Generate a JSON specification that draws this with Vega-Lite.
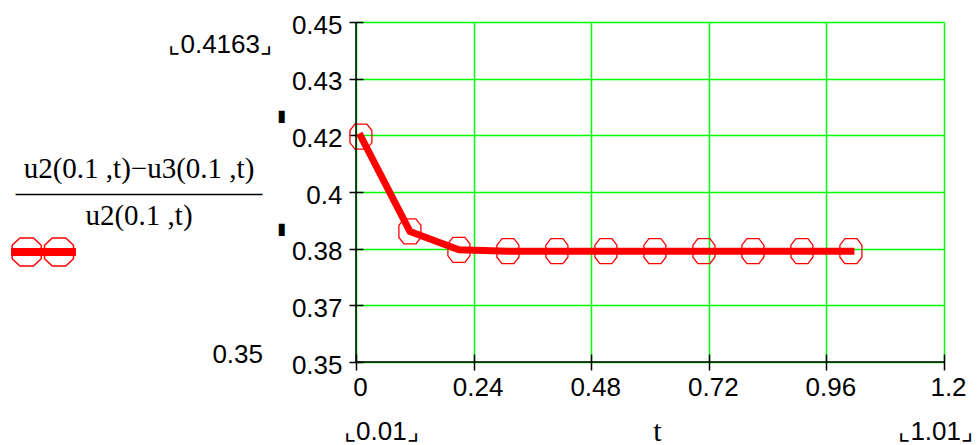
{
  "$schema": "https://vega.github.io/schema/vega-lite/v6.json",
  "width": 588,
  "height": 340,
  "autosize": "none",
  "padding": {"left": 356, "top": 22, "right": 33, "bottom": 83},
  "background": "white",
  "config": {
    "view": {"stroke": null},
    "font": "Liberation Sans"
  },
  "data": {
    "values": [
      {"t": 0.01, "ratio": 0.4163},
      {"t": 0.11, "ratio": 0.3884},
      {"t": 0.21, "ratio": 0.383},
      {"t": 0.31, "ratio": 0.3826},
      {"t": 0.41, "ratio": 0.3826},
      {"t": 0.51, "ratio": 0.3826},
      {"t": 0.61, "ratio": 0.3826},
      {"t": 0.71, "ratio": 0.3826},
      {"t": 0.81, "ratio": 0.3826},
      {"t": 0.91, "ratio": 0.3826},
      {"t": 1.01, "ratio": 0.3826}
    ]
  },
  "layer": [
    {
      "mark": {"type": "line", "color": "#ff0000", "strokeWidth": 7, "strokeCap": "square", "strokeJoin": "miter"},
      "encoding": {
        "x": {
          "field": "t",
          "type": "quantitative",
          "scale": {"domain": [0, 1.2], "nice": false, "zero": false},
          "axis": {
            "values": [0, 0.24, 0.48, 0.72, 0.96, 1.2],
            "format": ".2~f",
            "domain": false,
            "offset": -8,
            "tickSize": 16,
            "tickColor": "black",
            "tickWidth": 1.5,
            "labelPadding": 4,
            "labelOffset": 4,
            "labelFlush": false,
            "labelOverlap": false,
            "labelFont": "Liberation Sans",
            "labelFontSize": 26,
            "labelColor": "black",
            "grid": true,
            "gridColor": "#00ff00",
            "gridWidth": 1.5,
            "gridOpacity": 1,
            "title": "t",
            "titleFont": "Liberation Serif",
            "titleFontSize": 30,
            "titleFontWeight": "normal",
            "titleColor": "black",
            "titleBaseline": "alphabetic",
            "titleAlign": "center",
            "titleX": 301,
            "titleY": 86
          }
        },
        "y": {
          "field": "ratio",
          "type": "quantitative",
          "scale": {"domain": [0.35, 0.45], "nice": false, "zero": false},
          "axis": {
            "values": [0.35, 0.366667, 0.383333, 0.4, 0.416667, 0.433333, 0.45],
            "format": ".2~f",
            "domain": false,
            "offset": -7,
            "tickSize": 14,
            "tickColor": "black",
            "tickWidth": 1.5,
            "labelPadding": 7,
            "labelOffset": 3,
            "labelOverlap": false,
            "labelFont": "Liberation Sans",
            "labelFontSize": 26,
            "labelColor": "black",
            "grid": true,
            "gridColor": "#00ff00",
            "gridWidth": 1.5,
            "gridOpacity": 1,
            "title": null
          }
        }
      }
    },
    {
      "mark": {
        "type": "point",
        "filled": false,
        "opacity": 1,
        "strokeWidth": 1.3,
        "size": 625,
        "shape": "M-0.48,-1L0.48,-1L0.88,-0.48L0.88,0.48L0.48,1L-0.48,1L-0.88,0.48L-0.88,-0.48Z"
      },
      "encoding": {
        "x": {"field": "t", "type": "quantitative"},
        "y": {"field": "ratio", "type": "quantitative"},
        "color": {
          "datum": "ratio",
          "type": "nominal",
          "scale": {"range": ["#ff0000"]},
          "legend": {
            "orient": "none",
            "legendX": -340,
            "legendY": 133,
            "padding": 0,
            "title": ["u2(0.1 ,t)−u3(0.1 ,t)", "————————–", "u2(0.1 ,t)"],
            "titleFont": "Liberation Serif",
            "titleFontSize": 29,
            "titleFontWeight": "normal",
            "titleColor": "black",
            "titleLineHeight": 23.5,
            "titleAnchor": "start",
            "titleAlign": "center",
            "titlePadding": 5,
            "titleLimit": 400,
            "symbolType": "M-9.6,-0.22H-5.27M-9.6,-0.13H-5.27M-9.6,-0.045H-5.27M-9.6,0.045H-5.27M-9.6,0.13H-5.27M-9.6,0.22H-5.27M-9.003,-0.933L-8.103,-0.933L-7.586,-0.45L-7.586,0.45L-8.103,0.933L-9.003,0.933L-9.52,0.45L-9.52,-0.45ZM-6.85,-0.933L-5.95,-0.933L-5.433,-0.45L-5.433,0.45L-5.95,0.933L-6.85,0.933L-7.367,0.45L-7.367,-0.45Z",
            "symbolSize": 900,
            "symbolStrokeWidth": 1.5,
            "symbolStrokeColor": "#ff0000",
            "symbolFillColor": "transparent",
            "symbolOpacity": 1,
            "labelExpr": "''",
            "labelFontSize": 1
          }
        }
      }
    },
    {
      "data": {"values": [{}]},
      "mark": {"type": "rule", "color": "black", "strokeWidth": 1.5},
      "encoding": {"x": {"datum": 0, "type": "quantitative"}}
    },
    {
      "data": {"values": [{}]},
      "mark": {"type": "rule", "color": "black", "strokeWidth": 1.5},
      "encoding": {"y": {"datum": 0.35, "type": "quantitative"}}
    },
    {
      "data": {"values": [{"label": "⌞0.4163⌟"}]},
      "mark": {"type": "text", "align": "right", "baseline": "alphabetic", "dx": -84, "dy": 31, "fontSize": 26, "color": "black"},
      "encoding": {"x": {"datum": 0, "type": "quantitative"}, "y": {"datum": 0.45, "type": "quantitative"}, "text": {"field": "label"}}
    },
    {
      "data": {"values": [{"label": "0.35"}]},
      "mark": {"type": "text", "align": "right", "baseline": "alphabetic", "dx": -93, "dy": 1, "fontSize": 26, "color": "black"},
      "encoding": {"x": {"datum": 0, "type": "quantitative"}, "y": {"datum": 0.35, "type": "quantitative"}, "text": {"field": "label"}}
    },
    {
      "data": {"values": [{"label": "⌞0.01⌟"}]},
      "mark": {"type": "text", "align": "left", "baseline": "alphabetic", "dx": -12, "dy": 78, "fontSize": 26, "color": "black"},
      "encoding": {"x": {"datum": 0, "type": "quantitative"}, "y": {"datum": 0.35, "type": "quantitative"}, "text": {"field": "label"}}
    },
    {
      "data": {"values": [{"label": "⌞1.01⌟"}]},
      "mark": {"type": "text", "align": "right", "baseline": "alphabetic", "dx": 29, "dy": 78, "fontSize": 26, "color": "black"},
      "encoding": {"x": {"datum": 1.2, "type": "quantitative"}, "y": {"datum": 0.35, "type": "quantitative"}, "text": {"field": "label"}}
    },
    {
      "data": {"values": [{"label": "▮"}]},
      "mark": {"type": "text", "align": "center", "baseline": "middle", "dx": -74, "dy": 94, "fontSize": 16, "font": "DejaVu Sans", "color": "black"},
      "encoding": {"x": {"datum": 0, "type": "quantitative"}, "y": {"datum": 0.45, "type": "quantitative"}, "text": {"field": "label"}}
    },
    {
      "data": {"values": [{"label": "▮"}]},
      "mark": {"type": "text", "align": "center", "baseline": "middle", "dx": -74, "dy": 207, "fontSize": 16, "font": "DejaVu Sans", "color": "black"},
      "encoding": {"x": {"datum": 0, "type": "quantitative"}, "y": {"datum": 0.45, "type": "quantitative"}, "text": {"field": "label"}}
    }
  ]
}
